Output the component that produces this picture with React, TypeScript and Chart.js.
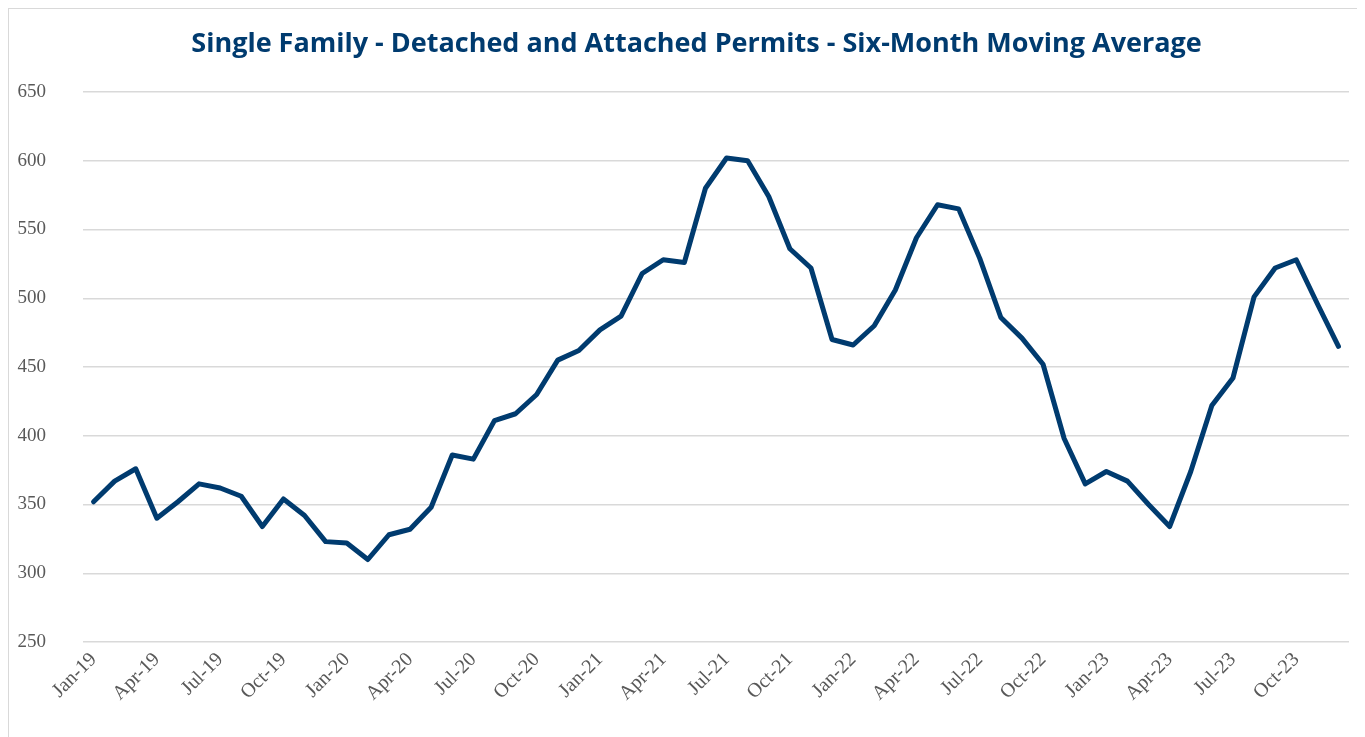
import React, { useEffect, useRef } from "react";
import { Chart, registerables } from "chart.js";

Chart.register(...registerables);

const TITLE = "Single Family - Detached and Attached Permits - Six-Month Moving Average";

const categories = [
  "Jan-19", "Feb-19", "Mar-19", "Apr-19", "May-19", "Jun-19", "Jul-19", "Aug-19", "Sep-19", "Oct-19", "Nov-19", "Dec-19",
  "Jan-20", "Feb-20", "Mar-20", "Apr-20", "May-20", "Jun-20", "Jul-20", "Aug-20", "Sep-20", "Oct-20", "Nov-20", "Dec-20",
  "Jan-21", "Feb-21", "Mar-21", "Apr-21", "May-21", "Jun-21", "Jul-21", "Aug-21", "Sep-21", "Oct-21", "Nov-21", "Dec-21",
  "Jan-22", "Feb-22", "Mar-22", "Apr-22", "May-22", "Jun-22", "Jul-22", "Aug-22", "Sep-22", "Oct-22", "Nov-22", "Dec-22",
  "Jan-23", "Feb-23", "Mar-23", "Apr-23", "May-23", "Jun-23", "Jul-23", "Aug-23", "Sep-23", "Oct-23", "Nov-23", "Dec-23",
];

const permits = [
  352, 367, 376, 340, 352, 365, 362, 356, 334, 354, 342, 323,
  322, 310, 328, 332, 348, 386, 383, 411, 416, 430, 455, 462,
  477, 487, 518, 528, 526, 580, 602, 600, 574, 536, 522, 470,
  466, 480, 506, 544, 568, 565, 529, 486, 471, 452, 398, 365,
  374, 367, 350, 334, 374, 422, 442, 501, 522, 528, 496, 465,
];

const yTicks = [250, 300, 350, 400, 450, 500, 550, 600, 650];

const NAVY = "#003B6F";
const GRID = "#D9D9D9";
const TICK = "#595959";

const titlePlugin = {
  id: "centeredTitle",
  afterDraw(chart: any) {
    const ctx = chart.ctx;
    ctx.save();
    ctx.fillStyle = NAVY;
    ctx.font = "bold 27px 'Open Sans'";
    ctx.textAlign = "center";
    ctx.textBaseline = "middle";
    ctx.fillText(TITLE, chart.width / 2 + 9.5, 35.5);
    ctx.restore();
  },
};

export default function App() {
  const ref = useRef<HTMLCanvasElement | null>(null);

  useEffect(() => {
    if (!ref.current) return;
    const chart = new Chart(ref.current, {
      type: "line",
      data: {
        labels: categories,
        datasets: [
          {
            label: "Permits",
            data: permits,
            borderColor: NAVY,
            borderWidth: 5,
            pointRadius: 0,
            tension: 0,
            borderJoinStyle: "round",
            borderCapStyle: "round",
            fill: false,
          },
        ],
      },
      plugins: [titlePlugin],
      options: {
        animation: false,
        responsive: false,
        maintainAspectRatio: false,
        layout: { padding: { left: 0, right: 16, top: 83, bottom: 0 } },
        plugins: {
          legend: { display: false },
          tooltip: { enabled: false },
          title: { display: false },
        },
        scales: {
          x: {
            type: "category",
            offset: true,
            grid: { display: false, drawTicks: false },
            border: { display: false },
            ticks: {
              autoSkip: false,
              maxRotation: 45,
              minRotation: 45,
              color: TICK,
              padding: 6,
              font: { family: "Liberation Serif", size: 20 },
              callback: (_v: any, i: number) => (i % 3 === 0 ? categories[i] : ""),
            },
            afterFit: (s: any) => {
              s.height = 95;
            },
          },
          y: {
            min: 250,
            max: 650,
            afterBuildTicks: (s: any) => {
              s.ticks = yTicks.map((v) => ({ value: v }));
            },
            grid: { color: GRID, lineWidth: 1.5, drawTicks: false },
            border: { display: false },
            ticks: {
              color: TICK,
              padding: 37,
              font: { family: "Liberation Serif", size: 19 },
            },
            afterFit: (s: any) => {
              s.width = 74;
            },
          },
        },
      },
    });
    return () => chart.destroy();
  }, []);

  return (
    <div
      style={{
        width: 1357,
        height: 729,
        boxSizing: "border-box",
        borderLeft: "1px solid #D9D9D9",
        borderTop: "1px solid #D9D9D9",
        background: "#fff",
      }}
    >
      <canvas ref={ref} width={1356} height={728} style={{ display: "block" }} />
    </div>
  );
}
